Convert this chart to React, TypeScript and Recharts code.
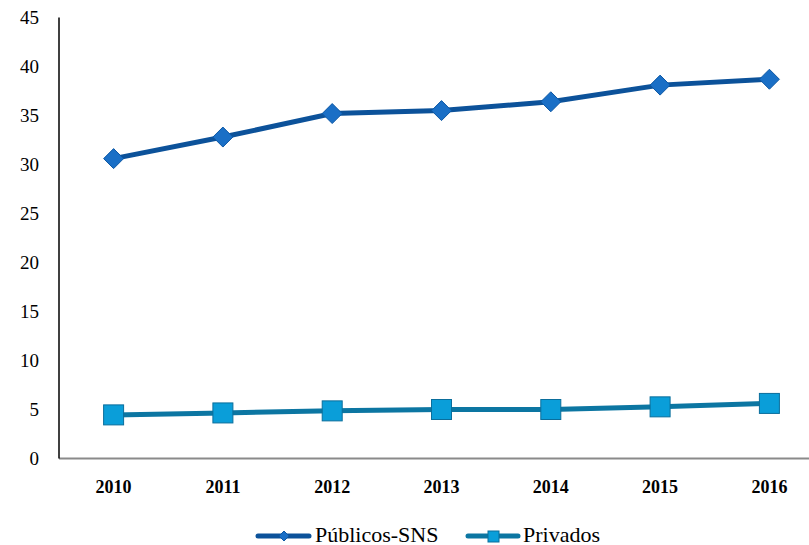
import React from "react";
import { LineChart, Line, XAxis, YAxis, Legend } from "recharts";

const years = ["2010", "2011", "2012", "2013", "2014", "2015", "2016"];
const publicos = [30.6, 32.8, 35.2, 35.5, 36.4, 38.1, 38.7];
const privados = [4.45, 4.65, 4.86, 5.0, 5.0, 5.27, 5.62];
const yTicks = [0, 5, 10, 15, 20, 25, 30, 35, 40, 45];

const data = years.map((y, i) => ({ year: y, publicos: publicos[i], privados: privados[i] }));

const PUB_LINE = "#0c529a";
const PUB_FILL = "#1a6fc6";
const PUB_STROKE = "#0d58a5";
const PRI_LINE = "#0c76a2";
const PRI_FILL = "#0a9ed9";
const PRI_STROKE = "#0a6e9c";

const FONT = "'Liberation Serif', serif";

const Diamond = (props: any) => {
  const { cx, cy } = props;
  if (cx == null || cy == null) return null;
  const r = 10;
  return (
    <polygon
      points={`${cx},${cy - r} ${cx + r},${cy} ${cx},${cy + r} ${cx - r},${cy}`}
      fill={PUB_FILL}
      stroke={PUB_STROKE}
      strokeWidth={1}
    />
  );
};

const Square = (props: any) => {
  const { cx, cy } = props;
  if (cx == null || cy == null) return null;
  const s = 20;
  return <rect x={cx - s / 2} y={cy - s / 2} width={s} height={s} fill={PRI_FILL} stroke={PRI_STROKE} strokeWidth={1} />;
};

const LegendContent = () => (
  <svg width={809} height={27} style={{ display: "block" }}>
    <line x1={258} y1={18} x2={309} y2={18} stroke={PUB_LINE} strokeWidth={5} strokeLinecap="round" />
    <polygon points="284,13 289,18 284,23 279,18" fill={PUB_FILL} stroke={PUB_STROKE} strokeWidth={1} />
    <text x={315} y={23.5} fontFamily={FONT} fontSize={22} fill="#000">
      Públicos-SNS
    </text>
    <line x1={468} y1={18} x2={518} y2={18} stroke={PRI_LINE} strokeWidth={5} strokeLinecap="round" />
    <rect x={488} y={13} width={11} height={11} fill={PRI_FILL} stroke={PRI_STROKE} strokeWidth={1} />
    <text x={523} y={23.5} fontFamily={FONT} fontSize={22} fill="#000">
      Privados
    </text>
  </svg>
);

export default function App() {
  return (
    <div
      style={{
        position: "fixed",
        left: 0,
        top: 0,
        width: 809,
        height: 545,
        overflow: "hidden",
        background: "#fff",
      }}
    >
      <LineChart
        width={824}
        height={545}
        data={data}
        margin={{ top: 17.5, right: 0, bottom: 19.5, left: 0 }}
      >
        <XAxis
          dataKey="year"
          axisLine={{ stroke: "#8a8a8a", strokeWidth: 2 }}
          tickLine={false}
          height={40}
          tickMargin={15.5}
          padding={{ left: 54.6, right: 54.6 }}
          tick={{ fontFamily: FONT, fontSize: 18, fontWeight: "bold", fill: "#000" }}
          interval={0}
        />
        <YAxis
          domain={[0, 45]}
          ticks={yTicks}
          width={59}
          axisLine={{ stroke: "#000", strokeWidth: 1.5 }}
          tickLine={false}
          tickMargin={14}
          tick={{ fontFamily: FONT, fontSize: 19, fill: "#000" }}
          interval={0}
        />
        <Legend
          content={<LegendContent />}
          wrapperStyle={{ position: "absolute", top: 518, left: 0, width: 809, height: 27 }}
        />
        <Line
          dataKey="publicos"
          name="Públicos-SNS"
          stroke={PUB_LINE}
          strokeWidth={5}
          dot={<Diamond />}
          activeDot={false}
          isAnimationActive={false}
        />
        <Line
          dataKey="privados"
          name="Privados"
          stroke={PRI_LINE}
          strokeWidth={5}
          dot={<Square />}
          activeDot={false}
          isAnimationActive={false}
        />
      </LineChart>
    </div>
  );
}
